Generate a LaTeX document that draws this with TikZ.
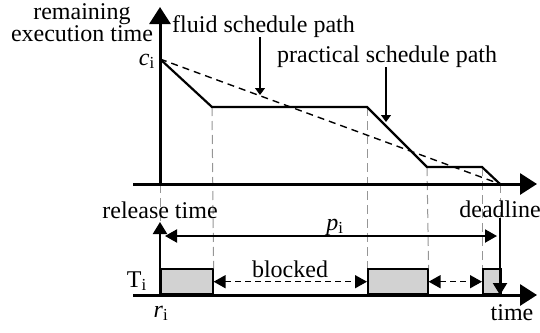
\documentclass[tikz,border=0pt]{standalone}
\usepackage{fontspec}
\setmainfont{Liberation Serif}
\usetikzlibrary{arrows.meta}
\definecolor{Box}{RGB}{210,210,210}
\definecolor{Guide}{RGB}{150,150,150}

\begin{document}
\begin{tikzpicture}[x=1pt,y=-1pt,
  axis/.style={-{Triangle[length=17pt,width=21pt]},line width=3pt},
  sched/.style={line width=2.2pt,line join=miter},
  fluid/.style={line width=1.4pt,dash pattern=on 7pt off 5pt},
  guide/.style={line width=1pt,Guide,dash pattern=on 9pt off 5pt},
  note/.style={-{Triangle[length=7pt,width=10pt]},line width=1.2pt},
  timemark/.style={-{Triangle[length=12pt,width=14pt]},line width=2.2pt},
  span/.style={{Triangle[length=12pt,width=13pt]}-{Triangle[length=12pt,width=13pt]},line width=2pt},
  gap/.style={{Triangle[length=12pt,width=13pt]}-{Triangle[length=12pt,width=13pt]},line width=1.5pt,dash pattern=on 6pt off 4pt},
  taskbox/.style={draw,line width=1.6pt,fill=Box,inner sep=0pt,anchor=south west,minimum height=25pt},
  lbl/.style={font=\fontsize{24}{26}\selectfont,inner sep=0pt}]
\useasboundingbox (0,0) rectangle (540,332);
% upper chart: remaining execution time
\coordinate (O) at (160,184);
\coordinate (ytop) at (160,7);
\coordinate (xl) at (133,184);
\coordinate (xr) at (537,184);
\coordinate (c) at (160,59);
\coordinate (s1) at (212,107);
\coordinate (s2) at (367,107);
\coordinate (s3) at (427,167);
\coordinate (s4) at (482,167);
\coordinate (d) at (500,184);
% lower chart: task timeline
\coordinate (bl) at (133,295);
\coordinate (br) at (537,295);
\coordinate (r) at (160,295);
\coordinate (rtop) at (160,222);
\coordinate (pl) at (165,236);
\coordinate (pr) at (497,236);
\coordinate (dtop) at (500,218);
\coordinate (dbot) at (500,295);
\coordinate (fa) at (260,95);
\coordinate (pa) at (386,122);

\node[taskbox,minimum width=52pt] (job1) at (160,295) {};
\node[taskbox,minimum width=60pt] (job2) at (367,295) {};
\node[taskbox,minimum width=18pt] (job3) at (482,295) {};

\draw[guide] (O) -- (rtop);
\draw[guide] (s1) -- (job1.north east);
\draw[guide] (s2) -- (job2.north west);
\draw[guide] (s3) -- (job2.north east);
\draw[guide] (s4) -- (job3.north west);
\draw[guide] (d) -- (dtop);

\draw[axis] (O) -- (ytop);
\draw[axis] (xl) -- (xr);
\draw[axis] (bl) -- (br);
\draw[fluid] (c) -- (d);
\draw[sched] (c) -- (s1) -- (s2) -- (s3) -- (s4) -- (d);

\node[lbl,anchor=base] (rem) at (82,19) {remaining};
\node[lbl,anchor=base] (exe) at (82,41) {execution time};
\node[lbl,anchor=base west] (fluidlbl) at (172,32) {fluid schedule path};
\node[lbl,anchor=base west] (praclbl) at (277,62) {practical schedule path};
\node[lbl,anchor=base east] (clbl) at (155,65) {\textit{c}\textsubscript{i}};
\draw[note] (fluidlbl.south -| fa) -- (fa);
\draw[note] (praclbl.south -| pa) -- (pa);

\node[lbl,anchor=base] (rel) at (160,218) {release time};
\node[lbl,anchor=base] (dl) at (500,217) {deadline};
\node[lbl,anchor=base] (plbl) at (335,230) {\textit{p}\textsubscript{i}};
\node[lbl,anchor=base] (blk) at (290,277) {blocked};
\node[lbl,anchor=base east] (tlbl) at (147,287) {T\textsubscript{i}};
\node[lbl,anchor=base] (rlbl) at (161,317) {\textit{r}\textsubscript{i}};
\node[lbl,anchor=base] (tm) at (512,320) {time};

\draw[timemark] (r) -- (rtop);
\draw[timemark] (dtop) -- (dbot);
\draw[span] (pl) -- (pr);
\draw[gap] (job1.east) -- (job2.west);
\draw[gap] (job2.east) -- (job3.west);
\end{tikzpicture}
\end{document}
